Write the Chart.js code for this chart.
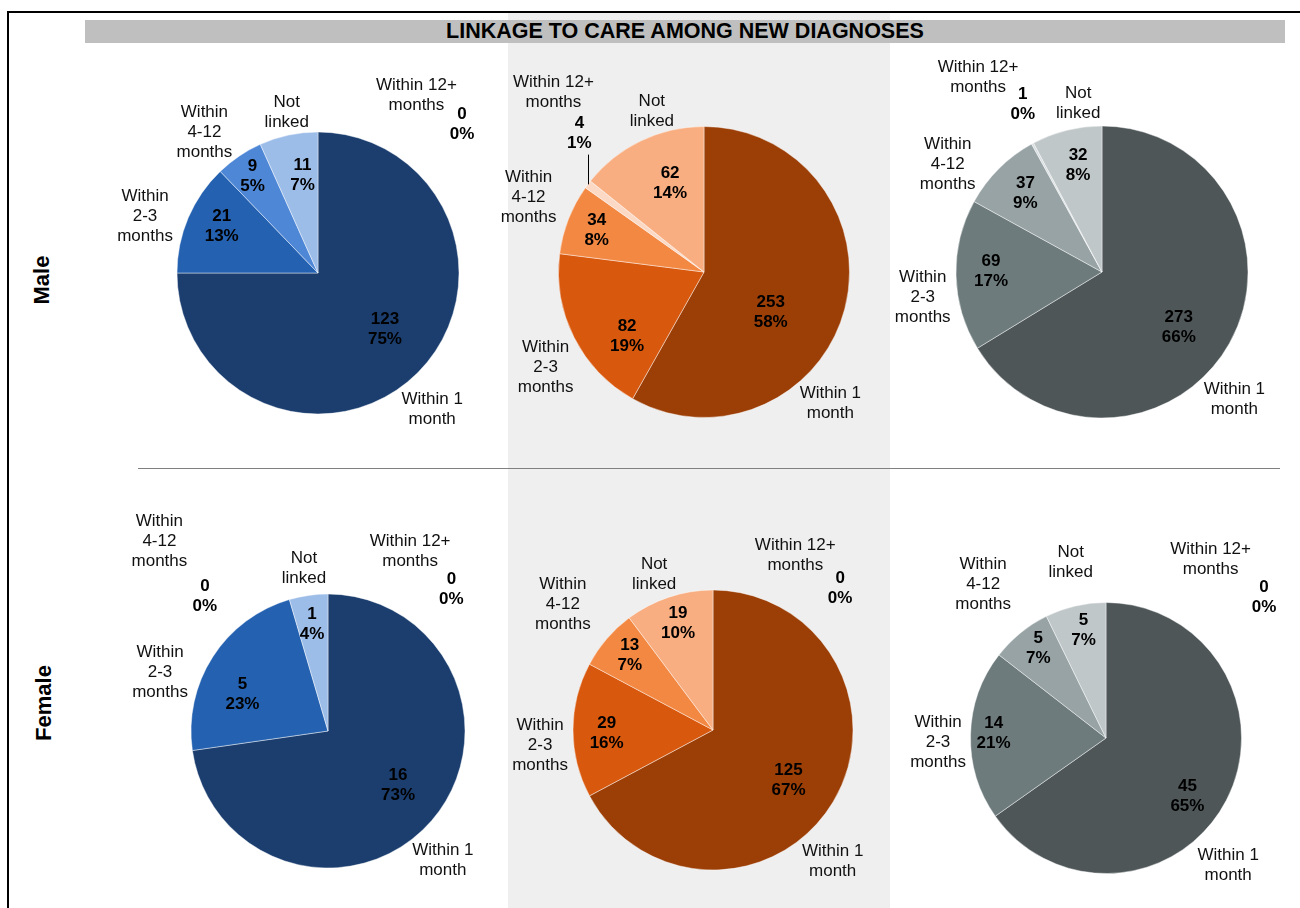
<!DOCTYPE html>
<html>
<head>
<meta charset="utf-8">
<script src="https://cdn.jsdelivr.net/npm/chart.js@4.4.1/dist/chart.umd.min.js"></script>
<style>
  body { margin: 0; background: #fff; }
  #page { position: relative; width: 1300px; height: 908px; overflow: hidden;
          font-family: "Liberation Sans", Arial, sans-serif; }
  .box { position: absolute; }
  .rowlab { position: absolute; width: 120px; height: 30px; line-height: 30px; text-align: center;
            font-weight: bold; font-size: 22px; color: #000; transform: rotate(-90deg); }
  canvas { position: absolute; }
</style>
</head>
<body>
<div id="page">
  <div class="box" style="left:508px;top:13px;width:382px;height:895px;background:#efefef"></div>
  <div class="box" style="left:7px;top:11px;width:1293px;height:2px;background:#000"></div>
  <div class="box" style="left:7px;top:11px;width:2px;height:897px;background:#000"></div>
  <div class="box" style="left:85px;top:20px;width:1200px;height:23px;background:#bfbfbf;text-align:center;font-weight:bold;font-size:21.5px;line-height:23px;color:#000">LINKAGE TO CARE AMONG NEW DIAGNOSES</div>
  <div class="box" style="left:138px;top:468px;width:1142px;height:1px;background:#808080"></div>
  <div class="rowlab" style="left:-18px;top:265px">Male</div>
  <div class="rowlab" style="left:-16px;top:688px">Female</div>
</div>
<script>
const categories = ['Within 1 month', 'Within 2-3 months', 'Within 4-12 months', 'Within 12+ months', 'Not linked'];
const categoryLines = [['Within 1', 'month'], ['Within', '2-3', 'months'], ['Within', '4-12', 'months'], ['Within 12+', 'months'], ['Not', 'linked']];

// counts and the percentages printed on the chart
const maleCol1 = [123, 21, 9, 0, 11];
const maleCol1Pct = [75, 13, 5, 0, 7];
const maleCol2 = [253, 82, 34, 4, 62];
const maleCol2Pct = [58, 19, 8, 1, 14];
const maleCol3 = [273, 69, 37, 1, 32];
const maleCol3Pct = [66, 17, 9, 0, 8];
const femaleCol1 = [16, 5, 0, 0, 1];
const femaleCol1Pct = [73, 23, 0, 0, 4];
const femaleCol2 = [125, 29, 13, 0, 19];
const femaleCol2Pct = [67, 16, 7, 0, 10];
const femaleCol3 = [45, 14, 5, 0, 5];
const femaleCol3Pct = [65, 21, 7, 0, 7];

const blueShades = ['#1b3e6f', '#2461b0', '#4f87d7', '#c6d8f2', '#9dbde9'];
const orangeShades = ['#9c3f07', '#d8580e', '#f38843', '#fbd9c5', '#f8ae81'];
const grayShades = ['#4e5658', '#6e7b7d', '#98a3a5', '#d7dddf', '#c0c7c9'];

const FONT = '"Liberation Sans", Arial, sans-serif';

// label placement: [bearing in degrees clockwise from 12 o'clock, distance as share of radius]
const pies = [
  { data: maleCol1, pct: maleCol1Pct, colors: blueShades, cx: 318, cy: 272.5, r: 141,
    cat: [[140, 1.26], [288, 1.29], [321, 1.28], [29, 1.44], [349, 1.16]],
    val: [[130, 0.62], [296, 0.76], [326, 0.83], [44, 1.47], [351, 0.70]] },
  { data: maleCol2, pct: maleCol2Pct, colors: orangeShades, cx: 703.5, cy: 271.5, r: 145.5,
    cat: [[136, 1.25], [239, 1.27], [293, 1.31], [320, 1.61], [342, 1.16]],
    val: [[121, 0.535], [230, 0.69], [291, 0.79], [318, 1.28], [339, 0.65]], leader: 3 },
  { data: maleCol3, pct: maleCol3Pct, colors: grayShades, cx: 1102, cy: 272, r: 146,
    cat: [[134, 1.26], [262, 1.24], [305, 1.29], [327.5, 1.58], [352, 1.17]],
    val: [[126, 0.65], [270.5, 0.76], [315.6, 0.75], [334.7, 1.27], [347.4, 0.75]] },
  { data: femaleCol1, pct: femaleCol1Pct, colors: blueShades, cx: 328, cy: 731, r: 137,
    cat: [[138.3, 1.26], [289.4, 1.30], [318.3, 1.85], [24.6, 1.44], [351.6, 1.20]],
    val: [[127.6, 0.645], [293.3, 0.68], [317.5, 1.33], [41.1, 1.37], [351.5, 0.79]] },
  { data: femaleCol2, pct: femaleCol2Pct, colors: orangeShades, cx: 713, cy: 729.5, r: 140,
    cat: [[137.7, 1.27], [265, 1.24], [310, 1.40], [25.2, 1.38], [339.3, 1.19]],
    val: [[123.9, 0.65], [268, 0.76], [312, 0.80], [41.9, 1.36], [341.8, 0.80]] },
  { data: femaleCol3, pct: femaleCol3Pct, colors: grayShades, cx: 1105.5, cy: 737.5, r: 135.5,
    cat: [[136.1, 1.30], [268.5, 1.24], [321.3, 1.45], [30.3, 1.53], [348.6, 1.32]],
    val: [[125.7, 0.74], [272.3, 0.83], [323, 0.83], [48.4, 1.56], [348.2, 0.81]] }
];

const LINE_H = 20;

function drawLines(ctx, lines, pos) {
  const top = pos[1] - (lines.length - 1) * LINE_H / 2;
  lines.forEach((t, k) => ctx.fillText(t, pos[0], top + k * LINE_H));
}

function labelPlugin(p) {
  return {
    id: 'sliceLabels',
    afterDatasetsDraw(chart) {
      const ctx = chart.ctx;
      const meta = chart.getDatasetMeta(0);
      const values = chart.data.datasets[0].data;
      ctx.save();
      ctx.textAlign = 'center';
      ctx.textBaseline = 'middle';
      meta.data.forEach((arc, i) => {
        const {x, y, outerRadius, startAngle, endAngle} = arc.getProps(['x', 'y', 'outerRadius', 'startAngle', 'endAngle'], true);
        const at = ([deg, f]) => {
          const a = deg * Math.PI / 180 - Math.PI / 2;
          return [x + Math.cos(a) * f * outerRadius, y + Math.sin(a) * f * outerRadius];
        };
        ctx.fillStyle = '#111';
        ctx.font = '17px ' + FONT;
        drawLines(ctx, categoryLines[i], at(p.cat[i]));
        ctx.fillStyle = '#000';
        ctx.font = 'bold 17px ' + FONT;
        const vp = at(p.val[i]);
        drawLines(ctx, [String(values[i]), p.pct[i] + '%'], vp);
        if (p.leader === i) {
          const mid = (startAngle + endAngle) / 2;
          const ex = x + Math.cos(mid) * outerRadius;
          const ey = y + Math.sin(mid) * outerRadius;
          ctx.strokeStyle = '#000';
          ctx.lineWidth = 1;
          ctx.beginPath();
          ctx.moveTo(Math.round(ex) + 0.5, ey);
          ctx.lineTo(Math.round(ex) + 0.5, vp[1] + LINE_H + 1);
          ctx.stroke();
        }
      });
      ctx.restore();
    }
  };
}

const page = document.getElementById('page');
const CW = 440, CH = 460;

pies.forEach(p => {
  const canvas = document.createElement('canvas');
  canvas.width = CW;
  canvas.height = CH;
  canvas.style.left = Math.round(p.cx - CW / 2) + 'px';
  canvas.style.top = Math.round(p.cy - CH / 2) + 'px';
  page.appendChild(canvas);

  new Chart(canvas, {
    type: 'pie',
    data: {
      labels: categories,
      datasets: [{
        data: p.data,
        backgroundColor: p.colors,
        borderColor: 'rgba(255,255,255,0.55)',
        borderWidth: 0.8,
        radius: p.r
      }]
    },
    options: {
      responsive: false,
      animation: false,
      events: [],
      layout: { padding: 0 },
      plugins: {
        legend: { display: false },
        tooltip: { enabled: false }
      }
    },
    plugins: [labelPlugin(p)]
  });
});
</script>
</body>
</html>
